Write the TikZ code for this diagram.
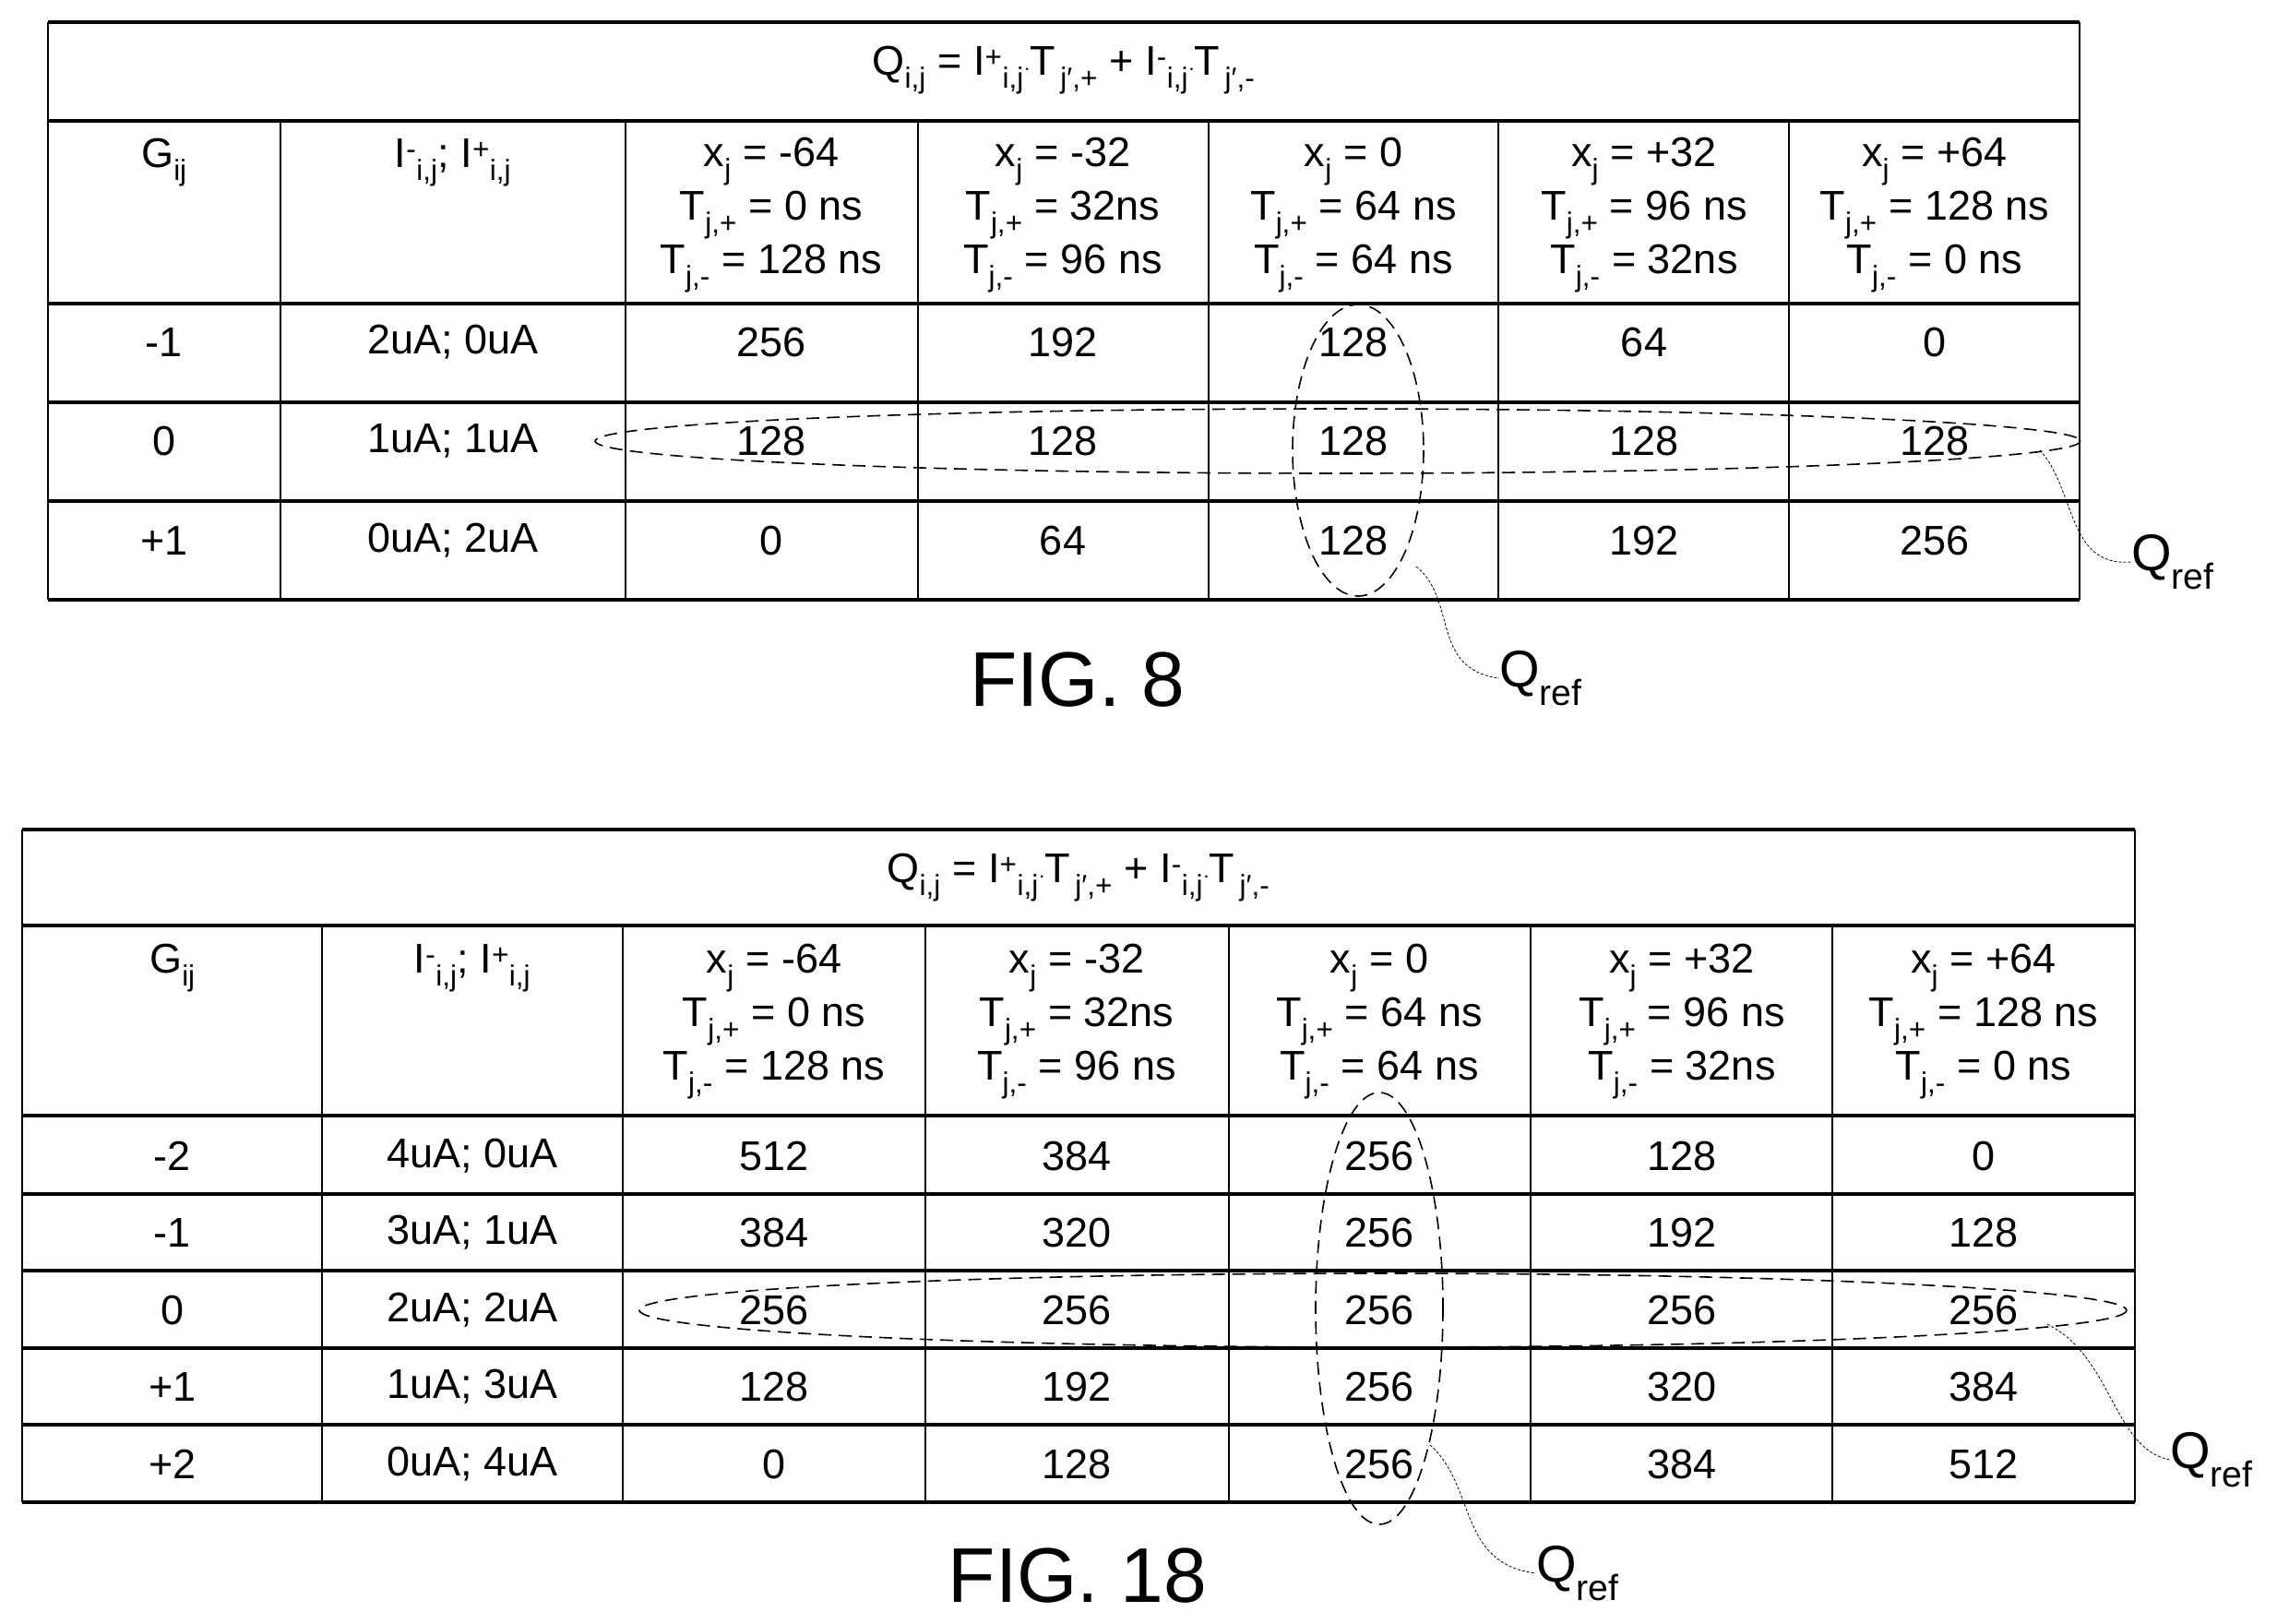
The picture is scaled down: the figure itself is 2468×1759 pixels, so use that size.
\documentclass[tikz,border=0pt]{standalone}
\usepackage{fontspec}
\setmainfont{Liberation Sans}
\newcommand{\sbs}[1]{\textsubscript{#1}}
\newcommand{\sps}[1]{\textsuperscript{#1}}
\newcommand{\ssp}[2]{\textsuperscript{#1}\textsubscript{#2}}
\begin{document}
\begin{tikzpicture}[x=1pt,y=-1pt,
  cell/.style={inner sep=0pt,font=\fontsize{45}{58}\selectfont,align=center},
  hl/.style={line width=3.5pt},
  vl/.style={line width=1.6pt},
  ell/.style={dashed,line width=1.6pt,dash pattern=on 14pt off 8pt},
  lead/.style={densely dashed,line width=0.8pt},
  fig/.style={font=\fontsize{84}{90}\selectfont,inner sep=0pt},
  qref/.style={font=\fontsize{56}{60}\selectfont,inner sep=0pt,anchor=west}]
\useasboundingbox (0,0) rectangle (2468,1759);
\def\hdr{Q\sbs{i,j} = I\ssp{+}{i,j}$\cdot$T\sbs{\,j′,+} + I\ssp{-}{i,j}$\cdot$T\sbs{\,j′,-}}
\def\colA{x\sbs{j} = -64\\T\sbs{j,+} = 0 ns\\T\sbs{j,-} = 128 ns}
\def\colB{x\sbs{j} = -32\\T\sbs{j,+} = 32ns\\T\sbs{j,-} = 96 ns}
\def\colC{x\sbs{j} = 0\\T\sbs{j,+} = 64 ns\\T\sbs{j,-} = 64 ns}
\def\colD{x\sbs{j} = +32\\T\sbs{j,+} = 96 ns\\T\sbs{j,-} = 32ns}
\def\colE{x\sbs{j} = +64\\T\sbs{j,+} = 128 ns\\T\sbs{j,-} = 0 ns}
% ---------- FIG 8 ----------
\foreach \y in {24,131,329,436,543,650} \draw[hl] (52,\y) -- (2254,\y);
\foreach \x in {52,2254} \draw[vl] (\x,24) -- (\x,650);
\foreach \x in {304,678,995,1310,1624,1939} \draw[vl] (\x,131) -- (\x,650);
\node[cell] (h8) at (1153,76) {\hdr};
\node[cell,anchor=north] (g8) at (178,150) {G\sbs{ij}};
\node[cell,anchor=north] (i8) at (491,150) {I\ssp{-}{i,j}; I\ssp{+}{i,j}};
\node[cell] (a8) at (836,233) {\colA};
\node[cell] (b8) at (1152,233) {\colB};
\node[cell] (c8) at (1467,233) {\colC};
\node[cell] (d8) at (1782,233) {\colD};
\node[cell] (e8) at (2097,233) {\colE};
\foreach \r/\y/\g/\i/\a/\b/\c/\d/\e in {1/371/-1/2uA; 0uA/256/192/128/64/0,2/478/0/1uA; 1uA/128/128/128/128/128,3/586/+1/0uA; 2uA/0/64/128/192/256}{
  \node[cell] (g8\r) at (178,\y) {\g};
  \node[cell] (i8\r) at (491,\y) {\i};
  \node[cell] (a8\r) at (836,\y) {\a};
  \node[cell] (b8\r) at (1152,\y) {\b};
  \node[cell] (c8\r) at (1467,\y) {\c};
  \node[cell] (d8\r) at (1782,\y) {\d};
  \node[cell] (e8\r) at (2097,\y) {\e};
}
\draw[ell] (1472,488) ellipse [x radius=71,y radius=158];
\draw[ell] (1450,478) ellipse [x radius=805,y radius=35];
\node[fig] (f8) at (1168,737) {FIG. 8};
\node[qref] (q8a) at (1625,735) {Q\sbs{ref}};
\node[qref] (q8b) at (2310,609) {Q\sbs{ref}};
\coordinate (s8a) at (1535,614);
\coordinate (s8b) at (2211,488);
\draw[lead] (s8a) .. controls (1580,650) and (1550,725) .. (q8a.west);
\draw[lead] (s8b) .. controls (2250,530) and (2240,615) .. (q8b.west);
% ---------- FIG 18 ----------
\foreach \y in {899,1003,1209,1294,1377,1461,1544,1628} \draw[hl] (24,\y) -- (2314,\y);
\foreach \x in {24,2314} \draw[vl] (\x,899) -- (\x,1628);
\foreach \x in {349,675,1003,1332,1659,1986} \draw[vl] (\x,1003) -- (\x,1628);
\node[cell] (h18) at (1169,951) {\hdr};
\node[cell,anchor=north] (g18) at (187,1023) {G\sbs{ij}};
\node[cell,anchor=north] (i18) at (512,1023) {I\ssp{-}{i,j}; I\ssp{+}{i,j}};
\node[cell] (a18) at (839,1107) {\colA};
\node[cell] (b18) at (1167,1107) {\colB};
\node[cell] (c18) at (1495,1107) {\colC};
\node[cell] (d18) at (1823,1107) {\colD};
\node[cell] (e18) at (2150,1107) {\colE};
\foreach \r/\y/\g/\i/\a/\b/\c/\d/\e in {1/1253/-2/4uA; 0uA/512/384/256/128/0,2/1336/-1/3uA; 1uA/384/320/256/192/128,3/1420/0/2uA; 2uA/256/256/256/256/256,4/1503/+1/1uA; 3uA/128/192/256/320/384,5/1587/+2/0uA; 4uA/0/128/256/384/512}{
  \node[cell] (g18\r) at (187,\y) {\g};
  \node[cell] (i18\r) at (512,\y) {\i};
  \node[cell] (a18\r) at (839,\y) {\a};
  \node[cell] (b18\r) at (1167,\y) {\b};
  \node[cell] (c18\r) at (1495,\y) {\c};
  \node[cell] (d18\r) at (1823,\y) {\d};
  \node[cell] (e18\r) at (2150,\y) {\e};
}
\draw[ell] (1495,1418) ellipse [x radius=69,y radius=234];
\draw[ell] (1499,1420) ellipse [x radius=806,y radius=40];
\node[fig] (f18) at (1168,1708) {FIG. 18};
\node[qref] (q18a) at (1665,1705) {Q\sbs{ref}};
\node[qref] (q18b) at (2352,1582) {Q\sbs{ref}};
\coordinate (s18a) at (1550,1566);
\coordinate (s18b) at (2219,1435);
\draw[lead] (s18a) .. controls (1600,1610) and (1580,1695) .. (q18a.west);
\draw[lead] (s18b) .. controls (2290,1470) and (2290,1570) .. (q18b.west);
\end{tikzpicture}
\end{document}
